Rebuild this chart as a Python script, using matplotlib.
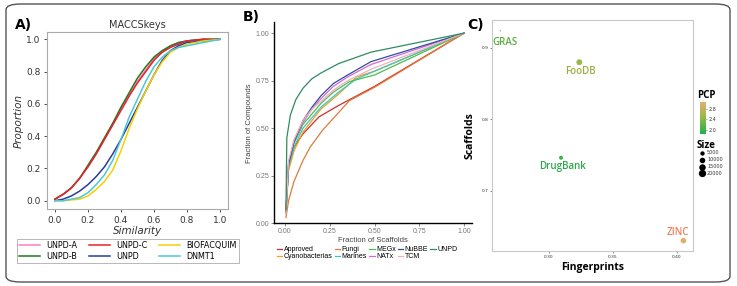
import numpy as np
import matplotlib
matplotlib.use("Agg")
import matplotlib.pyplot as plt
from matplotlib.patches import FancyBboxPatch
from matplotlib.colors import LinearSegmentedColormap, Normalize
from matplotlib.lines import Line2D

# ---------------- Data ----------------
# Panel A: cumulative distribution of MACCSkeys similarity
sim_x = [0, 0.05, 0.1, 0.15, 0.2, 0.25, 0.3, 0.35, 0.4, 0.45, 0.5, 0.55, 0.6, 0.65, 0.7, 0.75, 0.8, 0.9, 1.0]
unpd_a = [0.01, 0.04, 0.08, 0.14, 0.21, 0.29, 0.38, 0.47, 0.56, 0.65, 0.74, 0.81, 0.88, 0.92, 0.96, 0.98, 0.99, 1.0, 1.0]
unpd_b = [0.01, 0.04, 0.08, 0.14, 0.22, 0.30, 0.39, 0.48, 0.58, 0.67, 0.76, 0.83, 0.89, 0.93, 0.96, 0.98, 0.99, 1.0, 1.0]
unpd_c = [0.01, 0.04, 0.08, 0.14, 0.21, 0.29, 0.38, 0.47, 0.56, 0.65, 0.73, 0.80, 0.87, 0.92, 0.95, 0.97, 0.99, 1.0, 1.0]
unpd = [0.0, 0.01, 0.03, 0.06, 0.10, 0.15, 0.21, 0.29, 0.38, 0.48, 0.58, 0.68, 0.78, 0.87, 0.93, 0.96, 0.98, 0.99, 1.0]
biofacquim = [0.0, 0.0, 0.005, 0.01, 0.03, 0.07, 0.12, 0.19, 0.31, 0.45, 0.57, 0.68, 0.78, 0.86, 0.92, 0.95, 0.97, 0.99, 1.0]
dnmt1 = [0.0, 0.0, 0.01, 0.02, 0.05, 0.10, 0.16, 0.25, 0.38, 0.52, 0.63, 0.74, 0.83, 0.89, 0.93, 0.95, 0.96, 0.98, 1.0]
a_labels = ["UNPD-A", "UNPD-B", "UNPD-C", "UNPD", "BIOFACQUIM", "DNMT1"]

# Panel B: scaffold recovery curves
approved_x = [0.005, 0.02, 0.05, 0.1, 0.19, 0.3, 0.5, 1.0]
approved_y = [0.06, 0.30, 0.40, 0.47, 0.56, 0.62, 0.72, 1.0]
cyano_x = [0.005, 0.02, 0.05, 0.1, 0.2, 0.3, 0.4, 0.5, 1.0]
cyano_y = [0.05, 0.28, 0.38, 0.48, 0.60, 0.68, 0.77, 0.80, 1.0]
fungi_x = [0.005, 0.02, 0.05, 0.1, 0.14, 0.21, 0.36, 0.5, 1.0]
fungi_y = [0.03, 0.12, 0.22, 0.33, 0.40, 0.49, 0.645, 0.715, 1.0]
marines_x = [0.005, 0.02, 0.05, 0.1, 0.2, 0.3, 0.4, 0.5, 1.0]
marines_y = [0.06, 0.30, 0.40, 0.50, 0.61, 0.69, 0.76, 0.80, 1.0]
megx_x = [0.005, 0.02, 0.05, 0.1, 0.2, 0.27, 0.36, 0.5, 1.0]
megx_y = [0.06, 0.32, 0.42, 0.52, 0.63, 0.69, 0.745, 0.78, 1.0]
natx_x = [0.005, 0.02, 0.05, 0.1, 0.15, 0.2, 0.27, 0.35, 0.48, 1.0]
natx_y = [0.06, 0.32, 0.43, 0.53, 0.60, 0.655, 0.72, 0.77, 0.835, 1.0]
nubbe_x = [0.005, 0.02, 0.05, 0.1, 0.15, 0.2, 0.27, 0.35, 0.48, 1.0]
nubbe_y = [0.06, 0.31, 0.43, 0.54, 0.61, 0.67, 0.735, 0.78, 0.85, 1.0]
tcm_x = [0.005, 0.02, 0.05, 0.1, 0.15, 0.2, 0.27, 0.35, 0.48, 1.0]
tcm_y = [0.05, 0.33, 0.44, 0.54, 0.60, 0.64, 0.70, 0.75, 0.81, 1.0]
unpdb_x = [0.005, 0.01, 0.03, 0.06, 0.1, 0.15, 0.2, 0.3, 0.48, 1.0]
unpdb_y = [0.07, 0.45, 0.57, 0.65, 0.71, 0.76, 0.79, 0.84, 0.90, 1.0]
b_labels = ["Approved", "Cyanobacterias", "Fungi", "Marines", "MEGx", "NATx", "NuBBE", "TCM", "UNPD"]

# Panel C: databases
db_names = ["GRAS", "FooDB", "DrugBank", "ZINC"]
fingerprints = [0.262, 0.3237, 0.3094, 0.405]
scaffolds = [0.924, 0.880, 0.7464, 0.6305]
pcp = [2.2, 2.5, 2.0, 3.0]
db_size = [900, 20000, 9000, 18000]
size_legend = [5000, 10000, 15000, 20000]
pcp_ticks = [2.0, 2.4, 2.8]

# ---------------- Figure ----------------
W, H = 737, 286
fig = plt.figure(figsize=(W / 100, H / 100), dpi=100)

def ax_px(l, t, r, b):
    return fig.add_axes([l / W, 1 - b / H, (r - l) / W, (b - t) / H])

# outer rounded frame
frame = FancyBboxPatch((6 / W, 4 / H), (724 / W), (278 / H),
                       boxstyle="round,pad=0,rounding_size=0.02",
                       transform=fig.transFigure, fill=False,
                       edgecolor="#555555", linewidth=1.0)
fig.patches.append(frame)

# ---------- Panel A ----------
axA = ax_px(46.7, 31.7, 228.3, 209.3)
a_colors = ["#ff7fbf", "#1f7a1f", "#e8222a", "#2a3aa0", "#f5d000", "#4cc8dc"]
a_series = [unpd_a, unpd_b, unpd_c, unpd, biofacquim, dnmt1]
for ys, c, lab in zip(a_series, a_colors, a_labels):
    axA.plot(sim_x, ys, color=c, lw=1.1, label=lab)
axA.set_xlim(-0.05, 1.05)
axA.set_ylim(-0.053, 1.047)
axA.set_xticks([0, 0.2, 0.4, 0.6, 0.8, 1.0])
axA.set_yticks([0, 0.2, 0.4, 0.6, 0.8, 1.0])
axA.tick_params(labelsize=6.5, length=2.5, width=0.6, colors="#333333", pad=2)
for s in axA.spines.values():
    s.set_color("#aaaaaa")
    s.set_linewidth(0.8)
axA.set_title("MACCSkeys", fontsize=7, pad=3, color="#333333")
axA.set_xlabel("Similarity", fontsize=7.5, style="italic", labelpad=1, color="#333333")
axA.set_ylabel("Proportion", fontsize=7.5, style="italic", labelpad=2, color="#333333")
legA = fig.legend(*axA.get_legend_handles_labels(), ncol=3, fontsize=5.8,
                  loc="center", bbox_to_anchor=(128 / W, 1 - 251 / H),
                  frameon=True, fancybox=False, edgecolor="#999999",
                  handlelength=2.6, columnspacing=1.4, handletextpad=0.8,
                  labelspacing=0.25, borderpad=0.3)
legA.get_frame().set_linewidth(0.6)
fig.text(15 / W, 1 - 25 / H, "A)", fontsize=10, fontweight="bold", va="center")

# ---------- Panel B ----------
axB = ax_px(274.3, 22.3, 471.7, 223.3)
b_colors = ["#d42a2a", "#f2a01f", "#e07b39", "#3cc6c6", "#4cbf4c", "#d46ad4", "#2e4fa0", "#f4b0b8", "#2e8b62"]
b_xs = [approved_x, cyano_x, fungi_x, marines_x, megx_x, natx_x, nubbe_x, tcm_x, unpdb_x]
b_ys = [approved_y, cyano_y, fungi_y, marines_y, megx_y, natx_y, nubbe_y, tcm_y, unpdb_y]
for xs, ys, c, lab in zip(b_xs, b_ys, b_colors, b_labels):
    axB.plot(xs, ys, color=c, lw=0.9, label=lab)
axB.set_xlim(-0.06, 1.043)
axB.set_ylim(0.0, 1.057)
axB.set_xticks([0, 0.25, 0.5, 0.75, 1.0])
axB.set_xticklabels(["0.00", "0.25", "0.50", "0.75", "1.00"])
axB.set_yticks([0, 0.25, 0.5, 0.75, 1.0])
axB.set_yticklabels(["0.00", "0.25", "0.50", "0.75", "1.00"])
for s in ["top", "right"]:
    axB.spines[s].set_visible(False)
for s in ["left", "bottom"]:
    axB.spines[s].set_linewidth(1.0)
    axB.spines[s].set_color("black")
axB.tick_params(labelsize=5, length=2, width=0.6, colors="#777777", pad=1.5,
                labelfontfamily="Liberation Sans")
axB.set_xlabel("Fraction of Scaffolds", fontsize=5.5, labelpad=1.5, color="#444444",
               family="Liberation Sans")
axB.set_ylabel("Fraction of Compounds", fontsize=5.5, labelpad=2, color="#444444",
               family="Liberation Sans")
legB = fig.legend(*axB.get_legend_handles_labels(), ncol=5,
                  loc="center", bbox_to_anchor=(367 / W, 1 - 253 / H),
                  frameon=False, handlelength=0.8, handletextpad=0.2,
                  columnspacing=0.3, labelspacing=0.0, borderpad=0.1,
                  prop={"family": "Liberation Sans", "size": 5})
fig.text(243 / W, 1 - 17 / H, "B)", fontsize=10, fontweight="bold", va="center")

# ---------- Panel C ----------
axC = ax_px(492, 20, 693, 251)
cmap = LinearSegmentedColormap.from_list("pcp", ["#1fb04a", "#93b948", "#e9ae6d"])
norm = Normalize(vmin=1.85, vmax=3.05)
k = 0.0009
axC.scatter(fingerprints, scaffolds, s=np.array(db_size) * k,
            c=pcp, cmap=cmap, norm=norm, linewidths=0, zorder=3)
label_color = {"GRAS": "#5aae3e", "FooDB": "#9cae42", "DrugBank": "#2aa84a", "ZINC": "#f08058"}
label_offset = {"GRAS": (0.0035, -0.016), "FooDB": (0.0005, -0.013),
                "DrugBank": (0.001, -0.012), "ZINC": (-0.004, 0.011)}
for n, xv, yv in zip(db_names, fingerprints, scaffolds):
    dx, dy = label_offset[n]
    axC.text(xv + dx, yv + dy, n, color=label_color[n], fontsize=7,
             fontweight="semibold", family="Open Sans", ha="center", va="center")
axC.set_xlim(0.2555, 0.4125)
axC.set_ylim(0.616, 0.939)
axC.set_xticks([0.30, 0.35, 0.40])
axC.set_xticklabels(["0.30", "0.35", "0.40"])
axC.set_yticks([0.7, 0.8, 0.9])
axC.tick_params(labelsize=3.2, length=1.2, width=0.4, colors="#333333", pad=1.5)
for s in axC.spines.values():
    s.set_color("#c8c8c8")
    s.set_linewidth(0.8)
axC.set_xlabel("Fingerprints", fontsize=7.5, fontweight="bold", family="Open Sans",
               labelpad=2)
axC.set_ylabel("Scaffolds", fontsize=7.5, fontweight="bold", family="Open Sans",
               labelpad=4)
fig.text(467 / W, 1 - 25 / H, "C)", fontsize=10, fontweight="bold", va="center")

# colorbar legend
cax = ax_px(700, 102, 706, 134)
grad = np.linspace(norm.vmin, norm.vmax, 100).reshape(-1, 1)
cax.imshow(grad, aspect="auto", cmap=cmap, norm=norm, origin="lower",
           extent=[0, 1, norm.vmin, norm.vmax])
cax.set_xticks([])
cax.yaxis.tick_right()
cax.set_yticks(pcp_ticks)
cax.set_yticklabels([f"{v:.1f}" for v in pcp_ticks])
cax.tick_params(labelsize=3.5, length=1, width=0.4, pad=1, colors="#333333")
for s in cax.spines.values():
    s.set_visible(False)
fig.text(697 / W, 1 - 96 / H, "PCP", fontsize=7, fontweight="bold", family="Open Sans",
         va="center")
fig.text(697 / W, 1 - 146 / H, "Size", fontsize=7, fontweight="bold", family="Open Sans",
         va="center")
for i, sv in enumerate(size_legend):
    y = 1 - (153 + i * 6.8) / H
    fig.lines.append(Line2D([702 / W], [y], transform=fig.transFigure, marker="o",
                            markersize=np.sqrt(sv * k), color="black", linestyle="none"))
    fig.text(707 / W, y, str(sv), fontsize=3.5, va="center", color="#333333")

fig.savefig("out.png", dpi=100)
